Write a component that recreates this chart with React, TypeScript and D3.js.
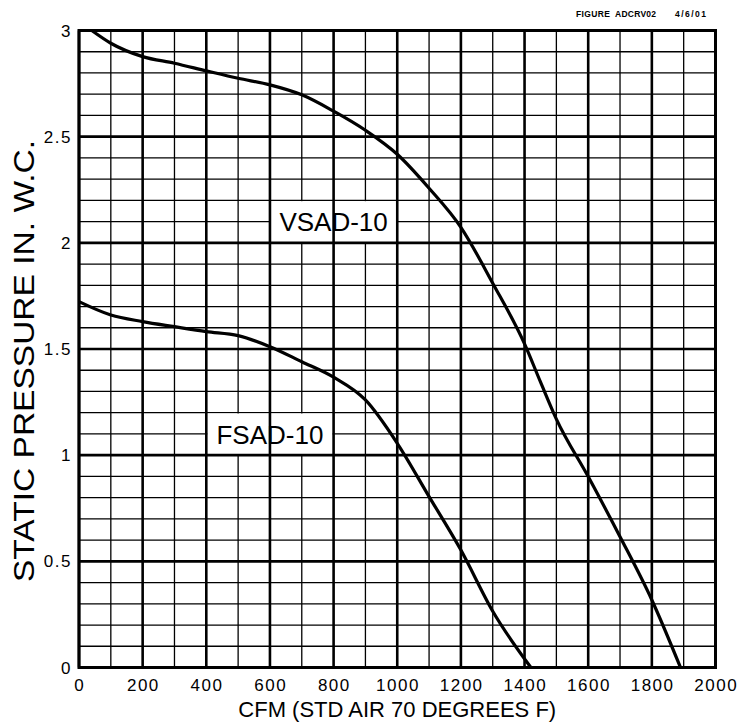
import React, {useEffect, useRef} from 'react'
import * as d3 from 'd3';

// VSAD-10 fan curve
const vsadCfm = [40, 100, 200, 300, 400, 500, 600, 700, 800, 900, 1000, 1100, 1200, 1300, 1400, 1450, 1500, 1600, 1700, 1800, 1890];
const vsadSp = [3.0, 2.94, 2.877, 2.846, 2.81, 2.775, 2.744, 2.697, 2.62, 2.53, 2.417, 2.257, 2.073, 1.81, 1.524, 1.345, 1.17, 0.899, 0.616, 0.318, 0];

// FSAD-10 fan curve
const fsadCfm = [0, 100, 200, 300, 400, 500, 600, 700, 800, 900, 1000, 1100, 1200, 1300, 1420];
const fsadSp = [1.723, 1.66, 1.629, 1.605, 1.582, 1.563, 1.511, 1.44, 1.367, 1.26, 1.056, 0.805, 0.553, 0.265, 0];

const xTicks = [0, 200, 400, 600, 800, 1000, 1200, 1400, 1600, 1800, 2000];
const yTicks = [0, 0.5, 1, 1.5, 2, 2.5, 3];

const FONT = '"Liberation Sans", Arial, sans-serif';

export default function App(){
    const svgRef = useRef(null);

    const W = 740, H = 726;
    const margin = {top: 30.5, right: 24.5, left: 79, bottom: 58.5};
    const width = W - margin.left - margin.right;
    const height = H - margin.top - margin.bottom;

    useEffect(() => {
        const svg = d3.select(svgRef.current);
        svg.selectAll("*").remove();

        const x = d3.scaleLinear().domain([0, 2000]).range([0, width]);
        const y = d3.scaleLinear().domain([0, 3]).range([height, 0]);

        const g = svg.append('g').attr('transform', `translate(${margin.left},${margin.top})`);

        const xGrid = d3.range(0, 2001, 100);
        const yGrid = d3.range(0, 31).map(i => i / 10);

        // minor grid
        const minor = g.append('g').attr('stroke', '#000').attr('stroke-width', 1.3);
        minor.selectAll('line.v').data(xGrid.filter(v => v % 200 !== 0)).join('line')
            .attr('x1', d => x(d)).attr('x2', d => x(d)).attr('y1', 0).attr('y2', height);
        minor.selectAll('line.h').data(yGrid.filter((v, i) => i % 5 !== 0)).join('line')
            .attr('class', 'h')
            .attr('y1', d => y(d)).attr('y2', d => y(d)).attr('x1', 0).attr('x2', width);

        // white boxes behind curve labels
        const boxes = [
            {x0: 600, x1: 1000, y0: 2.0, y1: 2.2},
            {x0: 400, x1: 800, y0: 1.0, y1: 1.2},
        ];
        g.append('g').selectAll('rect').data(boxes).join('rect')
            .attr('fill', '#fff')
            .attr('x', d => x(d.x0) + 1)
            .attr('y', d => y(d.y1) + 0.8)
            .attr('width', d => x(d.x1) - x(d.x0) - 2)
            .attr('height', d => y(d.y0) - y(d.y1) - 1.6);

        // major grid
        const major = g.append('g').attr('stroke', '#000').attr('stroke-width', 2.6);
        major.selectAll('line.v').data(xGrid.filter(v => v % 200 === 0)).join('line')
            .attr('x1', d => x(d)).attr('x2', d => x(d)).attr('y1', 0).attr('y2', height);
        major.selectAll('line.h').data(yGrid.filter((v, i) => i % 5 === 0)).join('line')
            .attr('class', 'h')
            .attr('y1', d => y(d)).attr('y2', d => y(d)).attr('x1', 0).attr('x2', width);

        g.append('rect')
            .attr('x', 0).attr('y', 0).attr('width', width).attr('height', height)
            .attr('fill', 'none').attr('stroke', '#000').attr('stroke-width', 3);

        // curves
        const line = d3.line().x(d => x(d[0])).y(d => y(d[1])).curve(d3.curveMonotoneX);
        const series = [
            d3.zip(vsadCfm, vsadSp),
            d3.zip(fsadCfm, fsadSp),
        ];
        g.append('g').selectAll('path').data(series).join('path')
            .attr('d', d => line(d))
            .attr('fill', 'none')
            .attr('stroke', '#000')
            .attr('stroke-width', 3.2)
            .attr('stroke-linejoin', 'round');

        // curve labels
        g.append('text')
            .attr('x', x(800)).attr('y', y(2.0) - 11.5)
            .attr('text-anchor', 'middle')
            .attr('font-family', FONT).attr('font-size', 26)
            .text('VSAD-10');
        g.append('text')
            .attr('x', x(600)).attr('y', y(1.0) - 11.5)
            .attr('text-anchor', 'middle')
            .attr('font-family', FONT).attr('font-size', 26)
            .text('FSAD-10');

        // tick labels
        g.append('g').selectAll('text').data(xTicks).join('text')
            .attr('x', d => x(d) + 0.75).attr('y', height + 23)
            .attr('text-anchor', 'middle')
            .attr('font-family', FONT).attr('font-size', 17)
            .attr('letter-spacing', 1.5)
            .text(d => d);
        g.append('g').selectAll('text').data(yTicks).join('text')
            .attr('x', -7).attr('y', d => y(d) + 6)
            .attr('text-anchor', 'end')
            .attr('font-family', FONT).attr('font-size', 17)
            .attr('letter-spacing', 1.5)
            .text(d => d);

        // axis titles
        svg.append('text')
            .attr('x', margin.left + width / 2).attr('y', 717)
            .attr('text-anchor', 'middle')
            .attr('font-family', FONT).attr('font-size', 22)
            .text('CFM (STD AIR 70 DEGREES F)');
        svg.append('text')
            .attr('transform', `translate(34,${361}) rotate(-90)`)
            .attr('text-anchor', 'middle')
            .attr('font-family', FONT).attr('font-size', 30)
            .attr('textLength', 442)
            .attr('lengthAdjust', 'spacingAndGlyphs')
            .text('STATIC PRESSURE IN. W.C.');

        // figure stamp
        const stamp = svg.append('g')
            .attr('font-family', FONT).attr('font-size', 8.5).attr('font-weight', 'bold');
        stamp.append('text').attr('x', 576).attr('y', 17).attr('textLength', 34).text('FIGURE');
        stamp.append('text').attr('x', 615).attr('y', 17).attr('textLength', 41).text('ADCRV02');
        stamp.append('text').attr('x', 675).attr('y', 17).attr('textLength', 31).text('4/6/01');
    }, []);

    return (
        <svg
            ref={svgRef}
            width={W}
            height={H}
            style={{position: 'absolute', left: 0, top: 0, background: '#fff'}}
        >
        </svg>
    );
}
